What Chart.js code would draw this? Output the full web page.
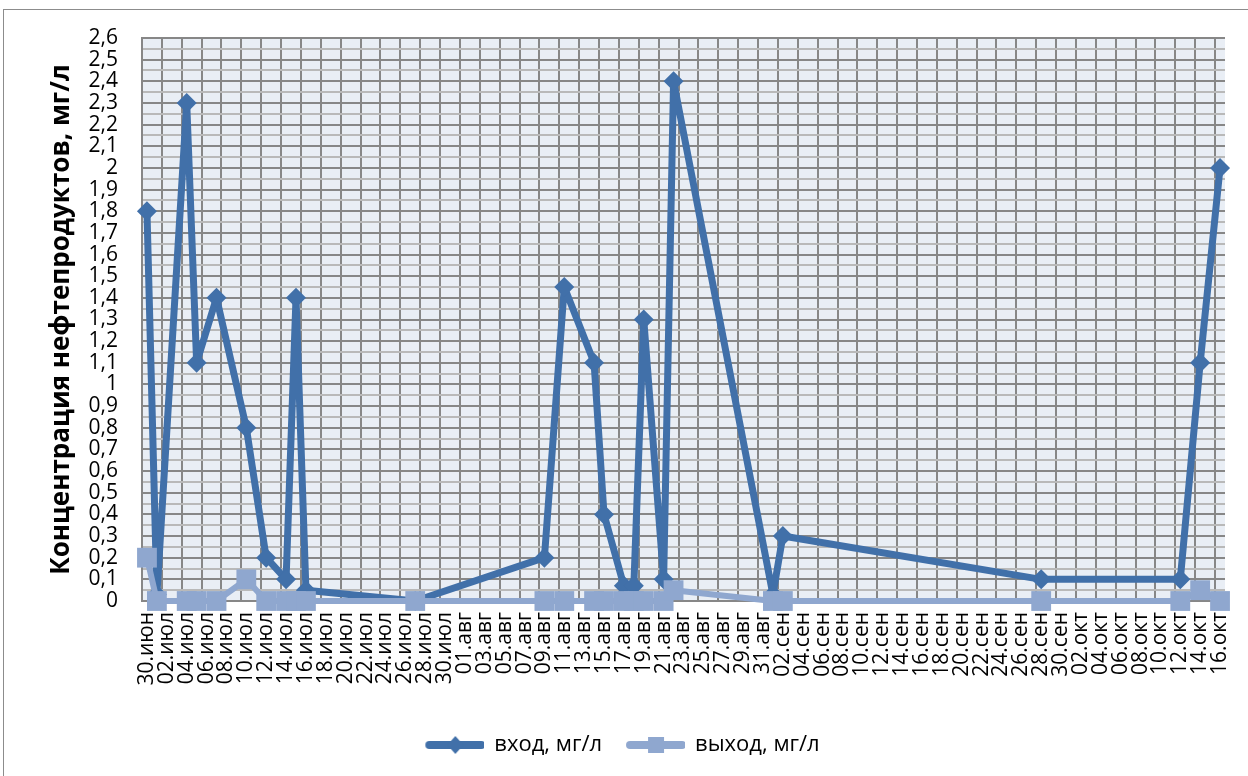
<!DOCTYPE html>
<html>
<head>
<meta charset="utf-8">
<script src="https://cdn.jsdelivr.net/npm/chart.js@4.4.0/dist/chart.umd.min.js"></script>
<style>
  html, body { margin: 0; padding: 0; background: #fff; }
  #wrap { position: relative; width: 1248px; height: 776px; }
</style>
</head>
<body>
<div id="wrap"><canvas id="chart" width="1248" height="776"></canvas></div>
<script>
// Концентрация нефтепродуктов на входе/выходе, 30.июн – 16.окт (ось дат — по дням)

// календарь оси: месяцы и число дней, первый день — 30.июн
const axisMonths = ['июн', 'июл', 'авг', 'сен', 'окт'];
const axisFirstDay = [30, 1, 1, 1, 1];
const axisLastDay = [30, 31, 31, 30, 16];

// даты отбора проб
const sampleDates = [
  '30.июн', '01.июл', '04.июл', '05.июл', '07.июл', '10.июл', '12.июл', '14.июл', '15.июл', '16.июл',
  '27.июл', '09.авг', '11.авг', '14.авг', '15.авг', '17.авг', '18.авг', '19.авг', '21.авг', '22.авг',
  '01.сен', '02.сен', '28.сен', '12.окт', '14.окт', '16.окт'
];
// вход, мг/л
const inletValues = [
  1.8, 0.03, 2.3, 1.1, 1.4, 0.8, 0.2, 0.1, 1.4, 0.05,
  0.0, 0.2, 1.45, 1.1, 0.4, 0.07, 0.07, 1.3, 0.1, 2.4,
  0.03, 0.3, 0.1, 0.1, 1.1, 2.0
];
// выход, мг/л
const outletValues = [
  0.2, 0, 0, 0, 0, 0.1, 0, 0, 0, 0,
  0, 0, 0, 0, 0, 0, 0, 0, 0, 0.05,
  0, 0, 0, 0, 0.05, 0
];

const FONT = "'Open Sans', 'Liberation Sans', sans-serif";
const C_IN = '#4170A9';
const C_OUT = '#8FA7CF';
const GRID_MAJOR = '#878787';
const GRID_MINOR = '#b9b9b9';

const axisDays = [];
axisMonths.forEach((m, k) => {
  for (let d = axisFirstDay[k]; d <= axisLastDay[k]; d++) {
    axisDays.push((d < 10 ? '0' + d : '' + d) + '.' + m);
  }
});

const toPoints = vals => sampleDates.map((d, i) => ({x: d, y: vals[i]}));

const isMajor = v => Math.abs(v * 10 - Math.round(v * 10)) < 1e-6;
const fmtY = v => {
  const r = Math.round(v * 10) / 10;
  return Number.isInteger(r) ? String(r) : r.toFixed(1).replace('.', ',');
};

// значок легенды: линия с маркером, как в Excel
function legendIcon(color, shape){
  const cv = document.createElement('canvas');
  cv.width = 60; cv.height = 22;
  const g = cv.getContext('2d');
  g.strokeStyle = color; g.lineWidth = 8; g.lineCap = 'round';
  g.beginPath(); g.moveTo(5, 11); g.lineTo(57, 11); g.stroke();
  g.fillStyle = color;
  if (shape === 'diamond') {
    g.beginPath(); g.moveTo(31, 2); g.lineTo(39, 11); g.lineTo(31, 20); g.lineTo(23, 11); g.closePath(); g.fill();
  } else {
    g.fillRect(23, 3, 16, 16);
  }
  return cv;
}

const frame = {
  id: 'frame',
  beforeDraw(chart){
    const {ctx, chartArea: a} = chart;
    ctx.save();
    ctx.fillStyle = '#fff';
    ctx.fillRect(0, 0, chart.width, chart.height);
    ctx.strokeStyle = '#8c8c8c';
    ctx.lineWidth = 1;
    ctx.strokeRect(3.5, 9.5, 1250, 770);
    ctx.fillStyle = '#E9EEF5';
    ctx.fillRect(a.left, a.top, a.right - a.left, a.bottom - a.top);
    ctx.restore();
  }
};

new Chart(document.getElementById('chart'), {
  type: 'line',
  data: {
    datasets: [
      {label: 'вход, мг/л', data: toPoints(inletValues), borderColor: C_IN, backgroundColor: C_IN,
       borderWidth: 7, borderJoinStyle: 'round', pointStyle: 'rectRot', pointRadius: 10, pointBorderWidth: 0,
       tension: 0, clip: false, order: 1},
      {label: 'выход, мг/л', data: toPoints(outletValues), borderColor: C_OUT, backgroundColor: C_OUT,
       borderWidth: 6, borderJoinStyle: 'round', pointStyle: 'rect', pointRadius: 14, pointBorderWidth: 0,
       tension: 0, clip: false, order: 0}
    ]
  },
  options: {
    responsive: false,
    animation: false,
    layout: {padding: {left: 20, right: 23, top: 38, bottom: 10}},
    plugins: {
      tooltip: {enabled: false},
      legend: {
        position: 'bottom',
        labels: {
          usePointStyle: true, pointStyleWidth: 58, padding: 24, color: '#000',
          font: {family: FONT, size: 22},
          generateLabels: chart => chart.data.datasets.map((ds, i) => ({
            text: ds.label, datasetIndex: i, hidden: false, fontColor: '#000',
            pointStyle: legendIcon(ds.borderColor, i === 0 ? 'diamond' : 'square'),
            fillStyle: 'transparent', strokeStyle: 'transparent', lineWidth: 0
          }))
        }
      }
    },
    scales: {
      x: {
        type: 'category', labels: axisDays, offset: true,
        ticks: {autoSkip: false, minRotation: 90, maxRotation: 90, padding: 11, color: '#000',
                font: {family: FONT, size: 21},
                callback: function(v, i){ return i % 2 === 0 ? this.getLabelForValue(v) : ''; }},
        grid: {offset: true, drawTicks: false, lineWidth: 2,
               color: c => c.index % 2 === 0 ? GRID_MAJOR : 'rgba(0,0,0,0)'},
        border: {display: true, color: GRID_MAJOR, width: 2},
        afterFit: s => { s.height = 109; s.paddingLeft = 0; s.paddingRight = 0; }
      },
      y: {
        min: 0, max: 2.6,
        ticks: {stepSize: 0.05, maxTicksLimit: 100, autoSkip: false, padding: 24, color: '#000',
                font: {family: FONT, size: 21},
                callback: v => isMajor(v) ? fmtY(v) : ''},
        grid: {drawTicks: false, lineWidth: 2,
               color: c => isMajor(c.tick.value) ? GRID_MAJOR : GRID_MINOR},
        border: {display: true, color: GRID_MAJOR, width: 2},
        title: {display: true, text: 'Концентрация нефтепродуктов, мг/л', color: '#000',
                font: {family: FONT, size: 26, weight: 'bold'}, padding: {top: 26, bottom: 0}},
        afterFit: s => { s.width = 122; }
      }
    }
  },
  plugins: [frame]
});
</script>
</body>
</html>
